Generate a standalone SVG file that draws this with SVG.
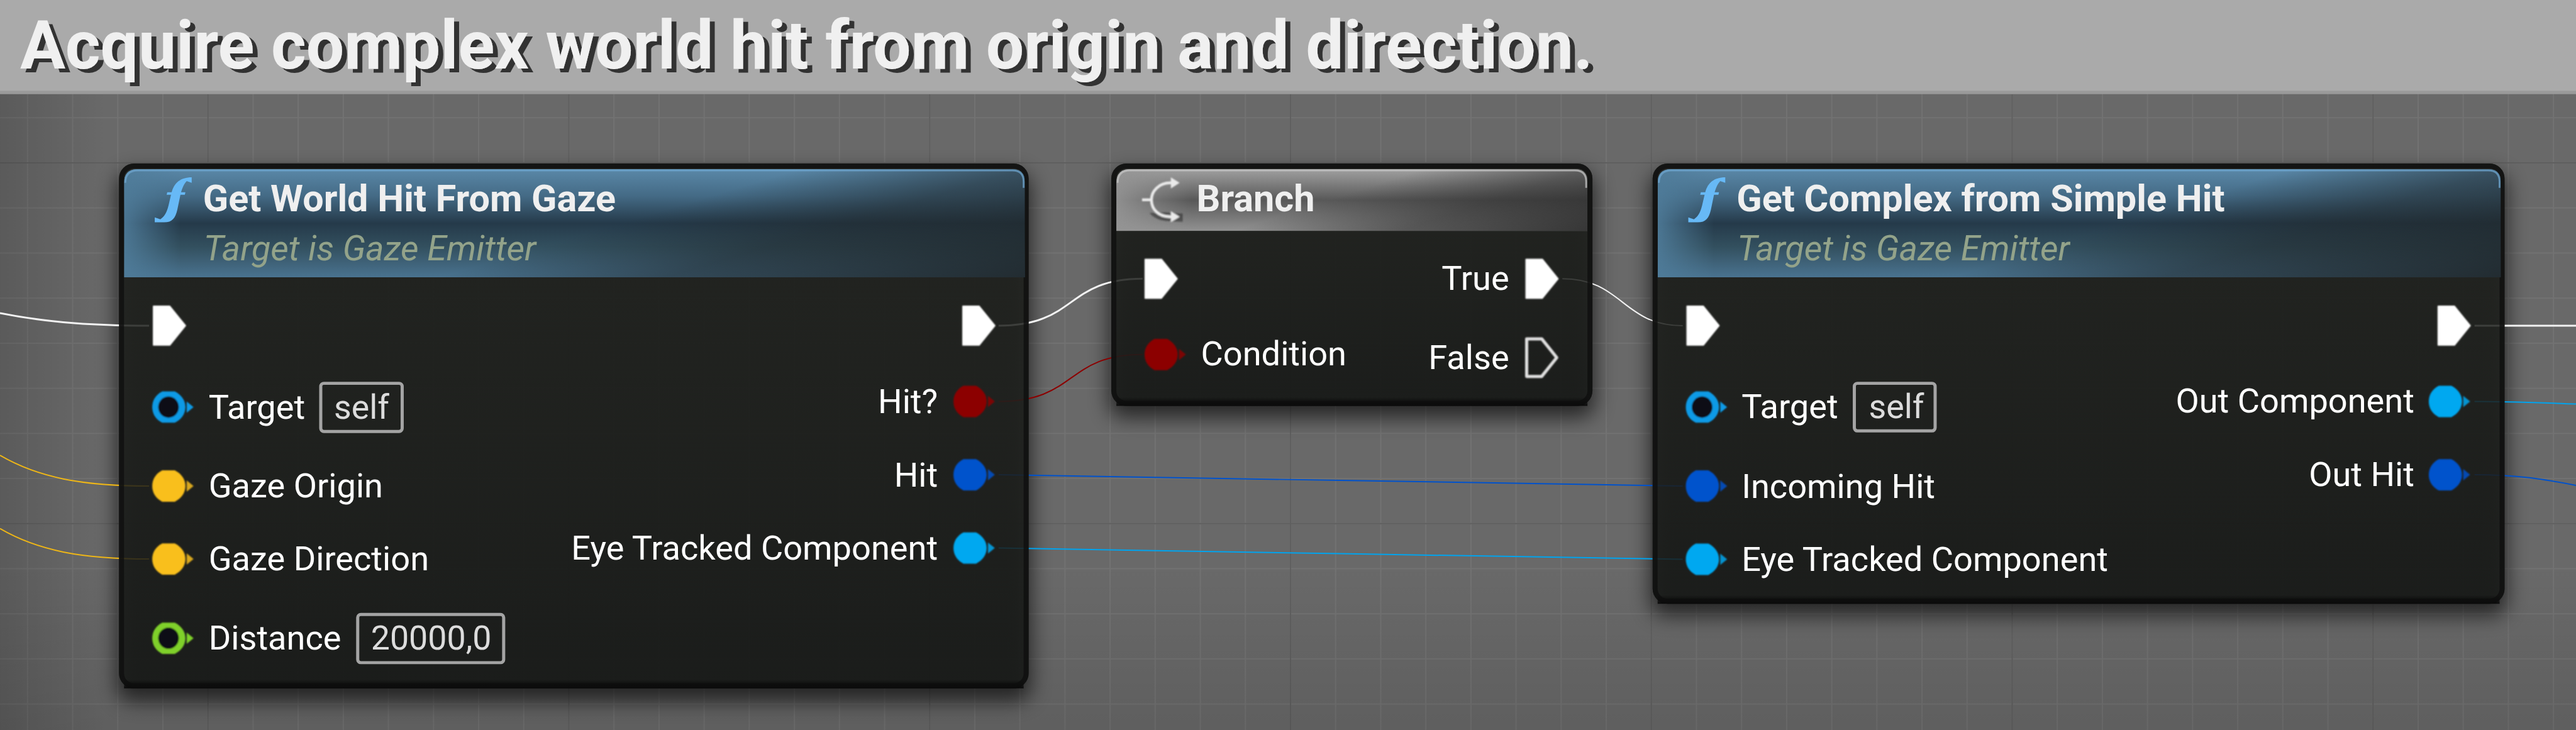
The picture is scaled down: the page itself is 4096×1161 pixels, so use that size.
<svg xmlns="http://www.w3.org/2000/svg" width="4096" height="1161" viewBox="0 0 4096 1161">
<style>
text{font-family:Roboto,"Liberation Sans",sans-serif}
.lbl{font-size:54.4px;fill:#fff}
.end{text-anchor:end}
.val{font-size:54px;fill:#dcdcdc}
.ttl{font-size:59.6px;font-weight:700;fill:#efefef}
.sub{font-size:55.8px;font-style:italic;fill:#93a38a}
.box{fill:none;stroke:#a4a4a4;stroke-width:5}
.wire{fill:none}
.w{stroke:#f2f2f2;stroke-width:3}
.y{stroke:#eeb617;stroke-width:2}
.r{stroke:#8c0000;stroke-width:2}
.b{stroke:#0052cc;stroke-width:2}
.c{stroke:#00a4ee;stroke-width:2}
.frame{fill:none;stroke:#0d0d0d;stroke-width:8;opacity:.75}
.body{fill:url(#gBody);opacity:.86}
.edge{fill:url(#gEdge)}
.fic{fill:#67b9f6}
</style>
<defs>
<pattern id="gridMinor" patternUnits="userSpaceOnUse" x="43" y="115" width="72" height="72"><path d="M1,0V72M0,1H72" stroke="#727272" stroke-width="2" fill="none"/></pattern>
<pattern id="gridMajor" patternUnits="userSpaceOnUse" x="331" y="259" width="576" height="576"><path d="M1,0V576M0,1H576" stroke="#5f5f5f" stroke-width="2" fill="none"/></pattern>
<linearGradient id="gVigL" x1="0" x2="1" y1="0" y2="0"><stop offset="0" stop-color="#000" stop-opacity=".14"/><stop offset="1" stop-color="#000" stop-opacity="0"/></linearGradient>
<linearGradient id="gVigB" x1="0" x2="0" y1="0" y2="1"><stop offset="0" stop-color="#000" stop-opacity="0"/><stop offset="1" stop-color="#000" stop-opacity=".1"/></linearGradient>
<linearGradient id="gBody" x1="0" x2="0" y1="0" y2="1"><stop offset="0" stop-color="#222420"/><stop offset=".5" stop-color="#1e201d"/><stop offset="1" stop-color="#191b19"/></linearGradient>
<linearGradient id="gEdge" x1="0" x2="0" y1="0" y2="1"><stop offset="0" stop-color="#000" stop-opacity="0"/><stop offset="1" stop-color="#000" stop-opacity=".85"/></linearGradient>
<linearGradient id="gBlue" x1="0" x2="0" y1="0" y2="1"><stop offset="0" stop-color="#5a88a8"/><stop offset=".25" stop-color="#446a85"/><stop offset=".5" stop-color="#253a4a"/><stop offset=".72" stop-color="#33505f"/><stop offset="1" stop-color="#4a7390"/></linearGradient>
<linearGradient id="gGray" x1="0" x2="0" y1="0" y2="1"><stop offset="0" stop-color="#a0a0a0"/><stop offset=".5" stop-color="#585858"/><stop offset="1" stop-color="#929292"/></linearGradient>
<linearGradient id="gFadeB" x1=".45" y1="0" x2="1.312" y2=".345"><stop offset=".3" stop-color="#20282c" stop-opacity="0"/><stop offset=".55" stop-color="#20282c" stop-opacity=".55"/><stop offset=".95" stop-color="#20282c" stop-opacity=".95"/></linearGradient>
<linearGradient id="gFadeG" x1=".45" y1="0" x2="1.312" y2=".345"><stop offset=".2" stop-color="#2c2c2c" stop-opacity="0"/><stop offset=".55" stop-color="#2c2c2c" stop-opacity=".55"/><stop offset=".95" stop-color="#2c2c2c" stop-opacity=".9"/></linearGradient>
<linearGradient id="gLeftB" x1="0" x2="1" y1="0" y2="0"><stop offset="0" stop-color="#4f7c9a" stop-opacity=".9"/><stop offset="1" stop-color="#4f7c9a" stop-opacity="0"/></linearGradient>
<linearGradient id="gLeftG" x1="0" x2="1" y1="0" y2="0"><stop offset="0" stop-color="#959595" stop-opacity=".9"/><stop offset="1" stop-color="#959595" stop-opacity="0"/></linearGradient>
<filter id="soft" x="-30%" y="-30%" width="160%" height="160%"><feGaussianBlur stdDeviation="1"/></filter>
<filter id="shadowBlur" x="-10%" y="-20%" width="120%" height="140%"><feGaussianBlur stdDeviation="16"/></filter>
<filter id="titleShadow" x="-2%" y="-20%" width="104%" height="150%"><feOffset dx="8" dy="6" in="SourceAlpha" result="o"/><feFlood flood-color="#333333"/><feComposite in2="o" operator="in"/><feMerge><feMergeNode/><feMergeNode in="SourceGraphic"/></feMerge></filter>
<clipPath id="cH1"><path d="M198,443V292Q198,270 220,270H1616Q1636,270 1636,290V443Z"/></clipPath>
<clipPath id="cH2"><path d="M1782,369V292Q1782,270 1804,270H2514Q2534,270 2534,290V369Z"/></clipPath>
<clipPath id="cH3"><path d="M2646,443V292Q2646,270 2668,270H3972Q3992,270 3992,290V443Z"/></clipPath>
<path id="disc" d="M16,-25H36C46,-20 53,-11 53,0C53,11 46,20 36,25H16C6,20 0,11 0,0C0,-11 6,-20 16,-25Z"/>
<g id="dot" filter="url(#soft)"><use href="#disc" fill="currentColor"/><path d="M55,-9L66,0L55,9Z" fill="currentColor" opacity=".85"/></g>
<g id="ring" filter="url(#soft)"><use href="#disc" fill="currentColor"/><ellipse cx="26" cy="0" rx="16.500" ry="17" fill="#0e1012"/><path d="M55,-9L66,0L55,9Z" fill="currentColor"/></g>
<path id="exec" d="M1,-31H27L52,0L27,31H1Z" fill="#fff" stroke="#fff" stroke-width="2" stroke-linejoin="round" filter="url(#soft)"/>
<path id="execO" d="M2,-30H26L50,0L26,30H2Z" fill="none" stroke="#e0e0e0" stroke-width="5" stroke-linejoin="round" filter="url(#soft)"/>
<path id="fn" class="fic" d="M306,283L306,292L298,289C294,293 291,300 289,307L296,307L295,311L288,311L283,335C280,348 275,355 262,355L247,355L247,347L256,350C262,346 266,340 269,328L273,311L266,311L267,307L274,307C278,292 288,283 306,283Z"/>
</defs>
<g transform="scale(0.99611)">
<g id="background">
<rect width="4112" height="1166" fill="#696969"/>
<rect y="150" width="4112" height="1016" fill="url(#gridMinor)"/>
<rect y="150" width="4112" height="1016" fill="url(#gridMajor)"/>
<rect y="150" width="170" height="1016" fill="url(#gVigL)"/>
<rect y="900" width="4112" height="266" fill="url(#gVigB)"/>
</g>
<g id="shadows" filter="url(#shadowBlur)" fill="#000" opacity=".62">
<rect x="186" y="275" width="1460" height="845" rx="24"/>
<rect x="1770" y="275" width="776" height="392" rx="24"/>
<rect x="2634" y="275" width="1368" height="708" rx="24"/>
</g>
<g id="connectors">
<path class="wire w" d="M0,500C60,512 130,520 238,520"/>
<path class="wire y" d="M0,727C60,762 130,776 238,776"/>
<path class="wire y" d="M0,844C60,879 130,892.500 238,892.500"/>
<path class="wire w" d="M1594,520C1720,520 1700,445 1824,445"/>
<path class="wire r" d="M1594,641C1720,641 1700,566 1824,566"/>
<path class="wire w" style="stroke-width:2" d="M2494,445C2590,445 2590,520 2686,520"/>
<path class="wire b" d="M1594,758C1800,758 2480,776 2686,776"/>
<path class="wire c" d="M1594,875C1800,875 2480,893 2686,893"/>
<path class="wire w" d="M3950,520H4112"/>
<path class="wire c" d="M3950,641C4020,641 4060,643.500 4112,645"/>
<path class="wire b" d="M3950,758C4020,758 4060,765 4112,775"/>
</g>
<g id="node-get-world-hit">
<rect class="body" x="190" y="261" width="1452" height="838" rx="24"/>
<rect class="edge" x="198" y="1085" width="1436" height="14"/>
<rect class="frame" x="194" y="265" width="1444" height="830" rx="20"/>
<g clip-path="url(#cH1)">
<rect x="198" y="270" width="1438" height="173" fill="url(#gBlue)"/>
<rect x="198" y="270" width="90" height="173" fill="url(#gLeftB)"/>
<rect x="198" y="270" width="1438" height="173" fill="url(#gFadeB)"/>
</g>
<path d="M1634,300V290Q1634,272 1616,272H220Q200,272 200,292" fill="none" stroke="#6fa6cf" stroke-width="3" opacity=".75"/>
<use href="#fn"/>
<text class="ttl" x="324" y="337">Get World Hit From Gaze</text>
<text class="sub" x="325" y="416">Target is Gaze Emitter</text>
<use href="#exec" x="244" y="520"/>
<use href="#ring" x="243" y="650" color="#0a9ae6"/>
<text class="lbl" x="333" y="669">Target</text>
<rect class="box" x="512" y="612" width="130" height="77" rx="5"/>
<text class="val" x="533" y="669">self</text>
<use href="#dot" x="243" y="776" color="#f9bf1c"/>
<text class="lbl" x="333" y="794">Gaze Origin</text>
<use href="#dot" x="243" y="892.500" color="#f9bf1c"/>
<text class="lbl" x="333" y="911">Gaze Direction</text>
<use href="#ring" x="243" y="1019" color="#7fd02a"/>
<text class="lbl" x="333" y="1037">Distance</text>
<rect class="box" x="571" y="981" width="233" height="77" rx="5"/>
<text class="val" x="592" y="1037">20000,0</text>
<use href="#exec" x="1536" y="520"/>
<text class="lbl end" x="1497" y="660">Hit?</text>
<use href="#dot" x="1522" y="641" color="#8c0000"/>
<text class="lbl end" x="1497" y="777">Hit</text>
<use href="#dot" x="1522" y="758" color="#0052cc"/>
<text class="lbl end" x="1497" y="893">Eye Tracked Component</text>
<use href="#dot" x="1522" y="875" color="#00a8f0"/>
</g>
<g id="node-branch">
<rect class="body" x="1774" y="261" width="768" height="387" rx="24"/>
<rect class="edge" x="1782" y="634" width="752" height="14"/>
<rect class="frame" x="1778" y="265" width="760" height="379" rx="20"/>
<g clip-path="url(#cH2)">
<rect x="1782" y="270" width="752" height="99" fill="url(#gGray)"/>
<rect x="1782" y="270" width="120" height="99" fill="url(#gLeftG)"/>
<rect x="1782" y="270" width="752" height="99" fill="url(#gFadeG)"/>
</g>
<path d="M2532,300V290Q2532,272 2514,272H1804Q1784,272 1784,292" fill="none" stroke="#c4c4c4" stroke-width="3" opacity=".75"/>
<g id="branch-icon" filter="url(#soft)">
<path d="M1835,340Q1845,352 1865,353L1888,354V341L1860,339Z" fill="#2a2a2a" opacity=".55"/>
<path d="M1877,292H1868C1850,292 1838,305 1838,319C1838,335 1850,346 1868,346H1877M1823,319H1838" fill="none" stroke="#eaeaea" stroke-width="4.500"/>
<path d="M1869,283L1883,292L1869,301ZM1869,337L1883,346L1869,355Z" fill="#eaeaea"/>
</g>
<text class="ttl" x="1910" y="337">Branch</text>
<use href="#exec" x="1827" y="445"/>
<use href="#dot" x="1827" y="566" color="#8c0000"/>
<text class="lbl" x="1917" y="583">Condition</text>
<text class="lbl end" x="2409" y="463">True</text>
<use href="#exec" x="2435" y="445"/>
<text class="lbl end" x="2409" y="589">False</text>
<use href="#execO" x="2435" y="571"/>
</g>
<g id="node-get-complex">
<rect class="body" x="2638" y="261" width="1360" height="703" rx="24"/>
<rect class="edge" x="2646" y="950" width="1344" height="14"/>
<rect class="frame" x="2642" y="265" width="1352" height="695" rx="20"/>
<g clip-path="url(#cH3)">
<rect x="2646" y="270" width="1346" height="173" fill="url(#gBlue)"/>
<rect x="2646" y="270" width="90" height="173" fill="url(#gLeftB)"/>
<rect x="2646" y="270" width="1346" height="173" fill="url(#gFadeB)"/>
</g>
<path d="M3990,300V290Q3990,272 3972,272H2668Q2648,272 2648,292" fill="none" stroke="#6fa6cf" stroke-width="3" opacity=".75"/>
<use href="#fn" x="2448"/>
<text class="ttl" x="2772" y="337">Get Complex from Simple Hit</text>
<text class="sub" x="2773" y="416">Target is Gaze Emitter</text>
<use href="#exec" x="2692" y="520"/>
<use href="#ring" x="2691" y="650" color="#0a9ae6"/>
<text class="lbl" x="2780" y="668">Target</text>
<rect class="box" x="2960" y="612" width="129" height="76" rx="5"/>
<text class="val" x="2983" y="668">self</text>
<use href="#dot" x="2691" y="776" color="#0052cc"/>
<text class="lbl" x="2780" y="795">Incoming Hit</text>
<use href="#dot" x="2691" y="893" color="#00a8f0"/>
<text class="lbl" x="2780" y="912">Eye Tracked Component</text>
<use href="#exec" x="3891" y="520"/>
<text class="lbl end" x="3854" y="659">Out Component</text>
<use href="#dot" x="3877" y="641" color="#00a8f0"/>
<text class="lbl end" x="3854" y="776">Out Hit</text>
<use href="#dot" x="3877" y="758" color="#0052cc"/>
</g>
<g id="comment-header">
<rect width="4112" height="150" fill="#aaaaaa"/>
<rect y="145" width="4112" height="5" fill="#9a9a9a"/>
<text x="32" y="109" filter="url(#titleShadow)" style="font-size:107.5px;font-weight:700;fill:#f0f0f0">Acquire complex world hit from origin and direction.</text>
</g>
</g>
</svg>
